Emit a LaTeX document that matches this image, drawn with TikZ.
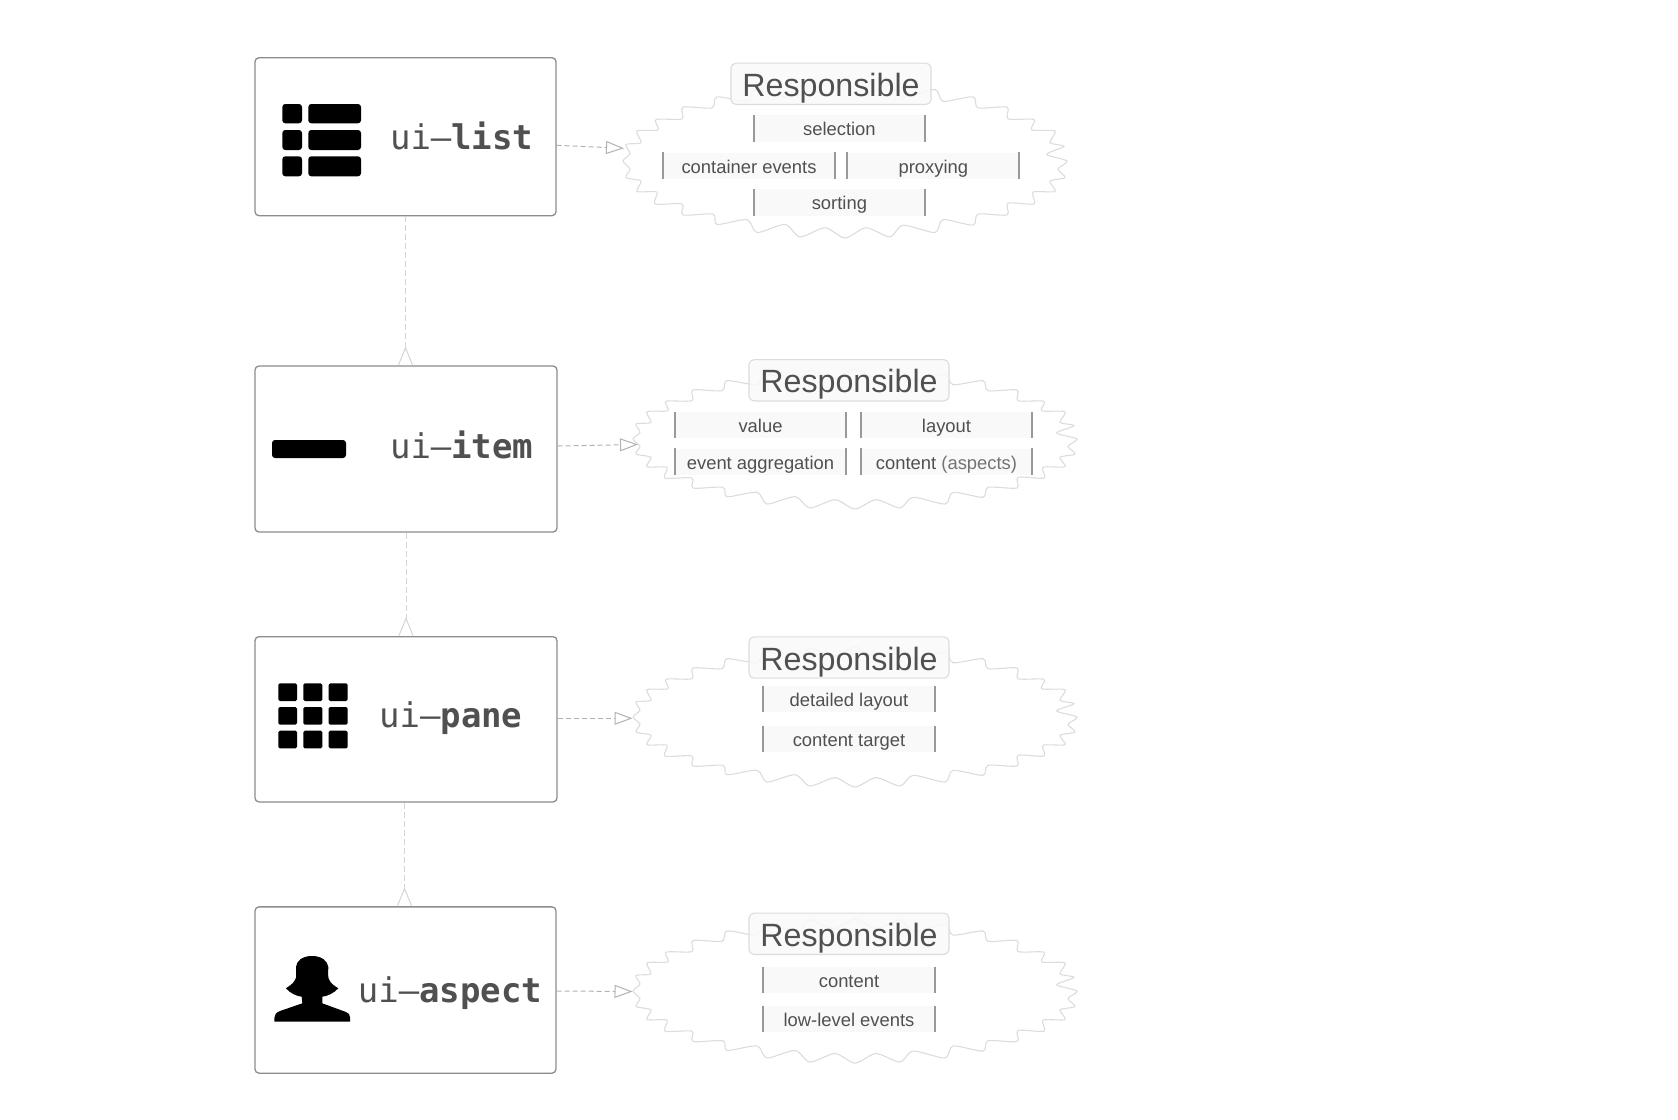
\documentclass[tikz,border=0pt]{standalone}
\usepackage{fontspec}
\setmainfont{Liberation Sans}
\setmonofont{DejaVu Sans Mono}
\usetikzlibrary{arrows.meta}

\definecolor{boxline}{HTML}{8C8C8C}
\definecolor{burstline}{HTML}{DCDCDC}
\definecolor{itemfill}{HTML}{F9F9F9}
\definecolor{itembar}{HTML}{999999}
\definecolor{textdark}{HTML}{505050}

\tikzset{
    burst/.pic={
        \draw[burstline, line width=1.1pt] plot[smooth cycle, tension=.45] coordinates {
            (0,70) (21,60.7) (45,69) (58,58.3) (90,65) (98,53.3) (128,58.3) (133,48.3)
            (162,49) (163,38.3) (189,39) (188,28.3) (210,27.7) (205,18.3) (220,15) (213,7.3)
            (222,0) (201.7,-6) (219,-13.3) (205,-16.7) (210,-27.3) (186.7,-28.3) (189,-37.7) (163,-38.3)
            (162,-49) (133,-48.3) (128,-58.3) (98,-54.3) (90,-65) (58,-58) (45,-69) (21,-60.7)
            (0,-70) (-21,-60.7) (-45,-69) (-58,-58) (-90,-65) (-98,-54.3) (-128,-58.3) (-133,-48.3)
            (-162,-49) (-163,-38.3) (-189,-37.7) (-187,-28.3) (-208,-27.3) (-204,-16.7) (-219,-15) (-215,-6.7)
            (-222,0) (-215,7.3) (-219,15) (-204,18.3) (-208,27.7) (-188,28.3) (-190,39) (-163,39)
            (-162,49) (-132,48.3) (-128,57.7) (-98,53.3) (-88,65) (-60,57.7) (-45,69) (-20,60.7)
        };
    }
}

\begin{document}
\begin{tikzpicture}[
        x=1pt,
        y=-1pt,
        ui box/.style={
            draw=boxline,
            fill=white,
            line width=1.3pt,
            rounded corners=4pt,
            minimum width=302pt,
            inner sep=0pt
        },
        ui name/.style={
            anchor=base,
            inner sep=0pt,
            text=textdark,
            font=\fontsize{34pt}{40pt}\selectfont\ttfamily
        },
        title box/.style={
            draw=burstline,
            fill=itemfill,
            fill opacity=.88,
            text opacity=1,
            line width=1.1pt,
            rounded corners=5pt,
            minimum width=200pt,
            minimum height=41.3pt,
            inner sep=0pt,
            text height=32pt,
            text depth=7pt,
            text=textdark,
            font=\fontsize{32.2pt}{38pt}\selectfont
        },
        item box/.style={
            fill=itemfill,
            minimum width=171.5pt,
            minimum height=26.4pt,
            inner sep=0pt,
            text height=19pt,
            text depth=4.5pt,
            text=textdark,
            font=\fontsize{18.4pt}{22pt}\selectfont,
            append after command={
                (\tikzlastnode.north west) edge[item bar] (\tikzlastnode.south west)
                (\tikzlastnode.north east) edge[item bar] (\tikzlastnode.south east)
            }
        },
        item bar/.style={
            draw=itembar,
            line width=2pt
        },
        icon/.style={
            fill=black,
            rounded corners=3pt
        },
        link/.style={
            draw=black!30,
            line width=1pt,
            dash pattern=on 5pt off 3pt,
            -{Triangle[open, length=18pt, width=13pt, fill=white]}
        },
        owner/.style={
            draw=black!17,
            line width=1pt,
            dash pattern=on 6pt off 3pt,
            -{Straight Barb[reversed, length=17pt, width=14pt]}
        }
    ]
    \useasboundingbox (0,0) rectangle (1678,1119);

    % clouds
    \pic[yscale=1.1] at (845,161) {burst};
    \pic at (855,439) {burst};
    \pic at (855,717) {burst};
    \pic[yscale=1.03] at (855,991) {burst};

    % ends of the links
    \coordinate (list end) at (624,148.3);
    \coordinate (item end) at (638,444.5);
    \coordinate (pane end) at (632.5,718.3);
    \coordinate (aspect end) at (632.5,991.5);

    % boxes
    \node[ui box, minimum height=158pt, minimum width=301pt] (list) at (405.5,136.7) {};
    \node[ui box, minimum height=166pt] (item) at (406,449) {};
    \node[ui box, minimum height=165.3pt] (pane) at (406,719.3) {};
    \node[ui box, minimum height=166.3pt, minimum width=301pt] (aspect) at (405.5,990) {};

    \node[ui name] (list name) at (461.7,149.3) {ui–\textbf{list}};
    \node[ui name] (item name) at (461.7,458.5) {ui–\textbf{item}};
    \node[ui name] (pane name) at (450.8,727.2) {ui–\textbf{pane}};
    \node[ui name] (aspect name) at (450,1002.2) {ui–\textbf{aspect}};

    % icons
    \fill[icon] (282.3,104) rectangle (302,123.3) (308.3,104) rectangle (361,123.3)
        (282.3,130) rectangle (302,150) (308.3,130) rectangle (361,150)
        (282.3,156.3) rectangle (302,176.3) (308.3,156.3) rectangle (361,176.3);
    \fill[icon] (272,440) rectangle (346,458);
    \fill[icon, rounded corners=1.5pt] (278.3,683.3) rectangle (297,701) (303.3,683.3) rectangle (322.3,701) (328.7,683.3) rectangle (347.7,701)
        (278.3,707) rectangle (297,724.7) (303.3,707) rectangle (322.3,724.7) (328.7,707) rectangle (347.7,724.7)
        (278.3,730.7) rectangle (297,748.3) (303.3,730.7) rectangle (322.3,748.3) (328.7,730.7) rectangle (347.7,748.3);
    \fill (312,956) .. controls (302,956) and (296.5,961) .. (296,967)
        .. controls (296,973) and (297,977) .. (295,980)
        .. controls (293,984) and (289,986) .. (286,988.3)
        .. controls (290,993) and (296,996) .. (301.7,996.7)
        -- (302.3,1003.3) -- (280,1011)
        .. controls (276,1012.5) and (274.3,1015) .. (274.3,1018.3)
        -- (274.3,1021.7) -- (350,1021.7) -- (350,1017)
        .. controls (350,1014.5) and (348.5,1013) .. (346,1012)
        -- (322.3,1003.3) -- (322.3,996.7)
        .. controls (328,996) and (334,993) .. (338.3,988.3)
        .. controls (335,986) and (331,984) .. (329.3,980)
        .. controls (327.5,977) and (328.3,973) .. (328.3,967)
        .. controls (327.5,961) and (322,956) .. (312,956) -- cycle;

    % links
    \draw[link] ([yshift=-8.6pt]list.east) -- (list end);
    \draw[link] ([yshift=3pt]item.east) -- (item end);
    \draw[link] ([yshift=1pt]pane.east) -- (pane end);
    \draw[link] ([yshift=-1pt]aspect.east) -- (aspect end);
    \draw[owner] (list.south) -- (list.south |- item.north);
    \draw[owner] (item.south) -- (pane.north);
    \draw[owner] ([xshift=-1.5pt]pane.south) -- ([xshift=-1.5pt]pane.south |- aspect.north);

    % responsibilities
    \node[title box] (list title) at (831,83.8) {Responsible};
    \node[item box, minimum width=171pt] (selection) at (839.4,128.5) {selection};
    \node[item box] (container events) at (749,165.8) {container events};
    \node[item box] (proxying) at (933.3,165.8) {proxying};
    \node[item box, minimum width=171pt] (sorting) at (839.4,202.5) {sorting};

    \node[title box] (item title) at (849,380.3) {Responsible};
    \node[item box] (value) at (760.5,425) {value};
    \node[item box] (layout) at (946.5,425) {layout};
    \node[item box] (event aggregation) at (760.5,461.8) {event aggregation};
    \node[item box] (content aspects) at (946.5,461.8) {content {\color{black!55}(aspects)}};

    \node[title box] (pane title) at (849,657.5) {Responsible};
    \node[item box] (detailed layout) at (849,699) {detailed layout};
    \node[item box] (content target) at (849,739) {content target};

    \node[title box] (aspect title) at (849,933.8) {Responsible};
    \node[item box] (content) at (849,980) {content};
    \node[item box] (low level events) at (849,1019) {low-level events};
\end{tikzpicture}
\end{document}
